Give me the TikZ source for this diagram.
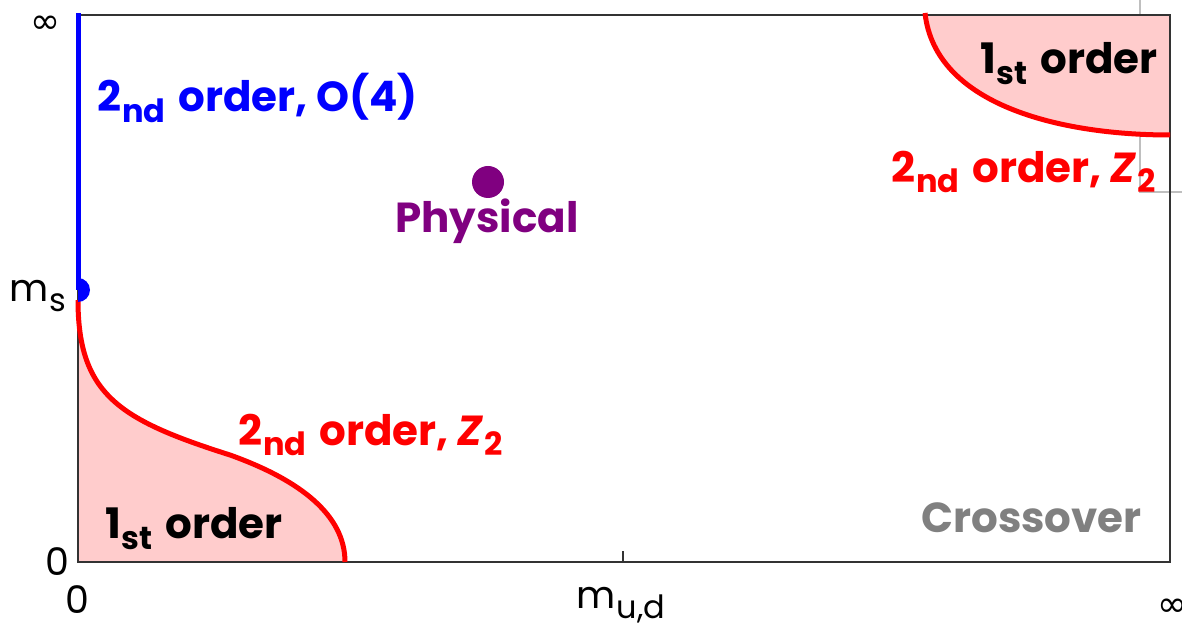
\documentclass[tikz,border=0pt]{standalone}
\usepackage{fontspec}
\setmainfont{Poppins}
\newfontfamily\symbfont{DejaVu Sans}
\usetikzlibrary{positioning}
\definecolor{phasered}{HTML}{FF0000}
\definecolor{phaseblue}{HTML}{0000FF}
\definecolor{phasepink}{HTML}{FFCCCC}
\definecolor{physpurple}{HTML}{800080}
\definecolor{crossgray}{HTML}{808080}
\newcommand{\lowidx}[1]{\kern1pt\raisebox{-0.26em}{\fontsize{32}{34}\selectfont #1}\kern4pt\relax}
\newcommand{\inftysign}{{\symbfont\fontsize{36}{36}\selectfont ∞}}

\begin{document}
\begin{tikzpicture}[x=1pt, y=1pt,
  region/.style={font=\fontsize{42}{48}\selectfont\bfseries, inner sep=0pt},
  axislbl/.style={font=\fontsize{38}{44}\selectfont, inner sep=0pt},
  border/.style={line width=1.2pt, color=black!80},
  redline/.style={line width=5pt, color=phasered},
  blueline/.style={line width=5pt, color=phaseblue}]

  \useasboundingbox (0,0) rectangle (1182,635);

  % first order regions
  \fill[phasepink] (78,335) .. controls (78,240) and (120,215) .. (230,180)
    .. controls (300,155) and (345,120) .. (345,73) -- (78,73) -- cycle;
  \fill[phasepink] (925,620) .. controls (935,530) and (1060,500) .. (1170,500)
    -- (1170,620) -- cycle;

  % leftover inset edges
  \draw[line width=1.5pt, color=black!25] (1140,635) -- (1140,620);
  \draw[line width=1.5pt, color=black!25] (1140,500) -- (1140,443) -- (1182,443);

  % frame
  \draw[border] (78,73) rectangle (1170,620);
  \draw[border] (623,73) -- (623,84);

  % phase boundaries
  \draw[redline] (78,335) .. controls (78,240) and (120,215) .. (230,180)
    .. controls (300,155) and (345,120) .. (345,73);
  \draw[redline] (925,622) .. controls (935,530) and (1060,500) .. (1170,500);
  \draw[blueline] (78,622) -- (78,345);
  \fill[phaseblue] (78,357) arc (90:-90:12) -- cycle;

  % physical point
  \fill[physpurple] (488,453) circle (16);
  \node[region, text=physpurple] (phys) at (487,414) {Physical};

  % region labels
  \node[region, text=phaseblue, anchor=west] (otwo) at (97,537) {2\lowidx{nd} order, O(4)};
  \node[region, text=phasered, anchor=west] (ztwolow) at (238,200) {2\lowidx{nd} order, \textit{Z}\lowidx{2}};
  \node[region, text=black, anchor=west] (firstlow) at (105,106) {1\lowidx{st} order};
  \node[region, text=crossgray, anchor=east] (cross) at (1142,117) {Crossover};
  \node[region, text=black, anchor=east] (firsthigh) at (1158,571) {1\lowidx{st} order};
  \node[region, text=phasered, anchor=east] (ztwohigh) at (1160,463) {2\lowidx{nd} order, \textit{Z}\lowidx{2}};

  % axis labels
  \node[axislbl] (yinf) at (45,610) {\inftysign};
  \node[axislbl] (ms) at (40,339) {m\lowidx{s}};
  \node[axislbl] (yzero) at (57,73) {0};
  \node[axislbl] (xzero) at (77,35) {0};
  \node[axislbl] (mud) at (623,30) {m\lowidx{u,d}};
  \node[axislbl] (xinf) at (1172,27) {\inftysign};
\end{tikzpicture}
\end{document}
